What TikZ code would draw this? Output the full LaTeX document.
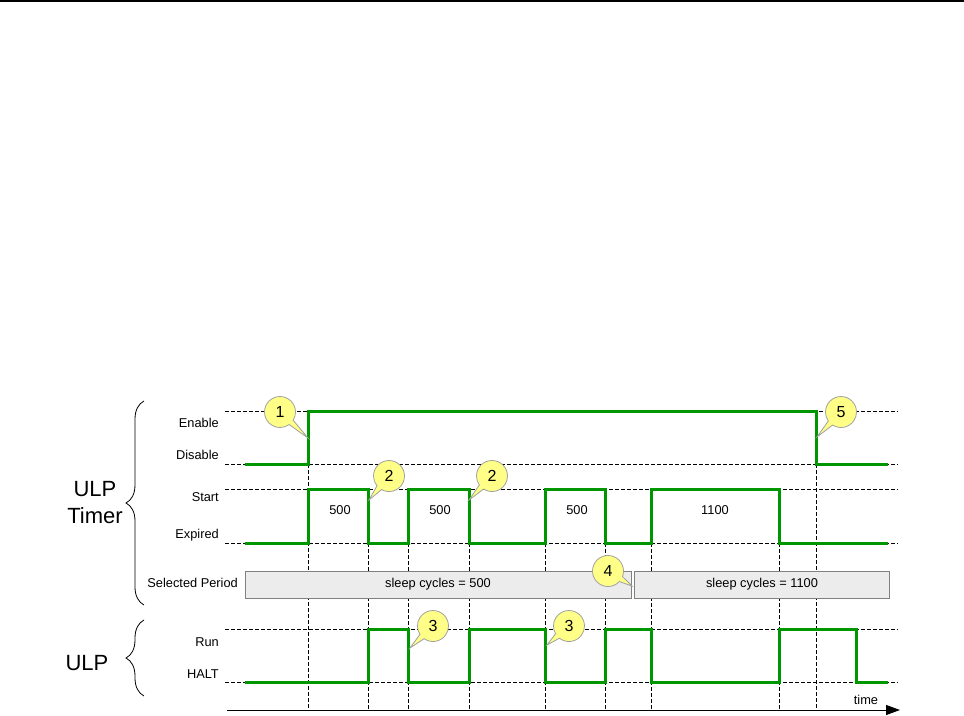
\documentclass[tikz,border=0pt]{standalone}
\usepackage{fontspec}
\setmainfont{Liberation Sans}
\usetikzlibrary{shapes.callouts,decorations.pathreplacing,arrows.meta}
\definecolor{sigc}{RGB}{0,150,0}
\definecolor{boxfill}{RGB}{236,236,236}
\definecolor{boxline}{RGB}{128,128,128}
\definecolor{callfill}{RGB}{255,255,136}
\definecolor{callline}{RGB}{160,160,160}
\begin{document}
\begin{tikzpicture}[x=1pt,y=-1pt,
  gridline/.style={black, line width=0.8pt, dash pattern=on 4pt off 2pt},
  signal/.style={draw=sigc, line width=3pt, line join=miter},
  lbl/.style={anchor=east, inner sep=0pt, font=\fontsize{12.8}{14}\selectfont},
  val/.style={inner sep=0pt, font=\fontsize{12.8}{14}\selectfont},
  period/.style={draw=boxline, fill=boxfill, line width=1pt},
  callnum/.style={ellipse callout, draw=callline, fill=callfill, line width=0.8pt,
    minimum width=31pt, minimum height=31pt, inner sep=0pt,
    callout pointer arc=22, font=\fontsize{16}{18}\selectfont},
  bigtxt/.style={align=center, inner sep=0pt, font=\fontsize{22}{27}\selectfont},
  bracestyle/.style={decorate, decoration={brace, amplitude=18pt}, line width=0.8pt}
]
\useasboundingbox (0,0) rectangle (964,715);
% top rule
\draw[line width=1.5pt] (0,1) -- (964,1);

% horizontal dashed levels
\foreach \yy in {411,464,489,543,629,682}
  \draw[gridline] (225,\yy) -- (898,\yy);

% vertical dashed lines
\draw[gridline] (308,464) -- (308,710);
\draw[gridline] (816,464) -- (816,710);
\foreach \xx in {368,408,469,545,605,651,779}
  \draw[gridline] (\xx,489) -- (\xx,710);

% axis
\coordinate (ax0) at (227,710);
\coordinate (ax1) at (900,710);
\draw[line width=1pt, -{Triangle[length=14pt,width=10pt]}] (ax0) -- (ax1);
\node[val, anchor=base] (timelbl) at (866,704) {time};

% period boxes
\draw[period] (245,571) rectangle (631,598);
\draw[period] (634,571) rectangle (889,598);
\node[val] (p1) at (438,584) {sleep cycles = 500};
\node[val] (p2) at (762,584) {sleep cycles = 1100};

% signals
\draw[signal] (245,464) -- (308,464) -- (308,411) -- (816,411) -- (816,464) -- (888,464);
\draw[signal] (245,543) -- (308,543) -- (308,489) -- (368,489) -- (368,543) -- (408,543)
  -- (408,489) -- (469,489) -- (469,543) -- (545,543) -- (545,489) -- (605,489)
  -- (605,543) -- (651,543) -- (651,489) -- (779,489) -- (779,543) -- (888,543);
\draw[signal] (245,682) -- (368,682) -- (368,629) -- (408,629) -- (408,682) -- (469,682)
  -- (469,629) -- (545,629) -- (545,682) -- (605,682) -- (605,629) -- (651,629)
  -- (651,682) -- (779,682) -- (779,629) -- (856,629) -- (856,682) -- (888,682);

% values
\node[val] (v1) at (340,510) {500};
\node[val] (v2) at (440,510) {500};
\node[val] (v3) at (577,510) {500};
\node[val] (v4) at (715,510) {1100};

% labels
\node[lbl] (en) at (219,423) {Enable};
\node[lbl] (dis) at (219,455) {Disable};
\node[lbl] (st) at (219,497) {Start};
\node[lbl] (ex) at (219,535) {Expired};
\node[lbl] (sp) at (238,583) {Selected Period};
\node[lbl] (run) at (219,642) {Run};
\node[lbl] (halt) at (219,674) {HALT};

% braces
\draw[bracestyle] (144,605) -- (144,401);
\draw[bracestyle] (144,696) -- (144,620);
\node[bigtxt] (ulpt) at (95,503) {ULP\\Timer};
\node[bigtxt] (ulp) at (87,663) {ULP};

% callouts
\node[callnum, callout absolute pointer={(308,438)}] (c1) at (280,412) {1};
\node[callnum, callout absolute pointer={(369,500)}] (c2a) at (389,476) {2};
\node[callnum, callout absolute pointer={(469,500)}] (c2b) at (492,476) {2};
\node[callnum, callout absolute pointer={(410,648)}] (c3a) at (433,626) {3};
\node[callnum, callout absolute pointer={(547,645)}] (c3b) at (569,626) {3};
\node[callnum, callout absolute pointer={(632,586)}] (c4) at (608,571) {4};
\node[callnum, callout absolute pointer={(817,437)}] (c5) at (841,412) {5};
\end{tikzpicture}
\end{document}
